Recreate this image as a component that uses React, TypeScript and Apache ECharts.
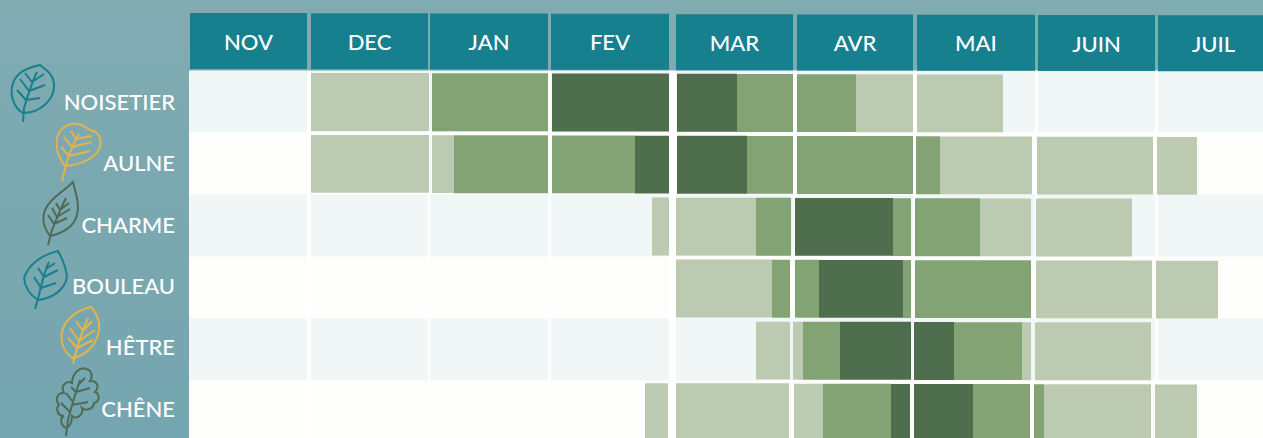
import React, { useEffect, useRef } from "react";
import * as echarts from "echarts";

// Position on the season axis: days counted from the start of November.
const species = ["NOISETIER", "AULNE", "CHARME", "BOULEAU", "HÊTRE", "CHÊNE"];
const monthNames = ["NOV", "DEC", "JAN", "FEV", "MAR", "AVR", "MAI", "JUIN", "JUIL"];
const monthStart = [0.25, 30.5, 60.25, 90.5, 121.75, 152, 182, 212.25, 242.25];
const monthEnd = [29.5, 59.75, 89.75, 120, 151, 181, 211.5, 241.5, 268.5];
const axisEnd = 268.5;

// [start, end, level]  level: 1 low, 2 medium, 3 high
const noisetier = [[30.5, 60, 1], [60.75, 89.75, 2], [90.75, 120, 3], [122, 137, 3], [137, 151, 2], [152, 166.75, 2], [166.75, 181, 1], [182, 203.5, 1]];
const aulne = [[30.5, 60, 1], [60.75, 66.25, 1], [66.25, 89.75, 2], [90.75, 111.5, 2], [111.5, 120, 3], [122, 139.5, 3], [139.5, 151, 2], [152, 181, 2], [181.75, 187.75, 2], [187.75, 210.75, 1], [212, 241, 1], [242, 252, 1]];
const charme = [[115.75, 120, 1], [121.75, 141.75, 1], [141.75, 150.5, 2], [151.5, 176, 3], [176, 180.5, 2], [181.5, 197.75, 2], [197.75, 210.5, 1], [211.75, 235.75, 1]];
const bouleau = [[121.75, 145.75, 1], [145.75, 150.25, 2], [151.5, 157.5, 2], [157.5, 178.5, 3], [178.5, 180.5, 2], [181.5, 210.5, 2], [211.75, 240.75, 1], [241.75, 257.25, 1]];
const hetre = [[141.75, 150.25, 1], [151, 153.5, 1], [153.5, 162.75, 2], [162.75, 180.5, 3], [181.25, 191.25, 3], [191.25, 208.25, 2], [208.25, 210.5, 1], [211.5, 240.5, 1]];
const chene = [[114, 119.75, 1], [121.75, 150, 1], [151.25, 158.5, 1], [158.5, 175.5, 2], [175.5, 180.25, 3], [181.25, 196, 3], [196, 210.25, 2], [211.25, 213.75, 2], [213.75, 240.5, 1], [241.5, 252, 1]];
const rows = [noisetier, aulne, charme, bouleau, hetre, chene];

const levelColors = ["", "#bccab1", "#84a374", "#4f6e4d"];
const TEAL = "#17808f";
const YELLOW = "#e2b44c";
const DARK = "#4f6a55";
const FONT = "Lato";
const TILT = 0.0024;

const leaves: [string, string][] = [
  ["M23 113 C14 108 9 95 13 83 C17 71 30 67 40 65 C46 70 54 74 54 86 C54 100 40 113 23 113 Z M23 122 L24 108 C28 95 32 82 37 72 M26 100 L17 90 M29 91 L20 79 M32 82 L25 73 M26 100 L40 98 M29 91 L45 85 M32 82 L44 74", TEAL],
  ["M65 166 C59 158 55 148 57 138 C59 128 68 123 77 124 C84 125 88 130 93 131 C99 133 102 140 100 147 C97 157 82 165 65 166 Z M62 181 L67 161 C71 150 74 141 79 134 M69 156 L61 147 M72 147 L64 137 M76 139 L71 131 M69 156 L90 151 M72 147 L92 142 M76 139 L92 136", YELLOW],
  ["M73 182 C76 195 80 205 77 215 C74 227 63 233 50 236 C44 228 41 218 46 208 C51 198 63 192 73 182 Z M48 245 L52 230 C56 220 60 210 66 198 M54 224 L48 215 M57 217 L52 208 M60 210 L56 203 M54 224 L67 218 M57 217 L70 209 M60 210 L69 203", DARK],
  ["M58 251 C62 258 66 268 67 277 C65 288 55 298 38 300 C30 295 25 288 24 278 C28 266 40 255 58 251 Z M35 309 L39 295 C42 282 45 270 49 262 M41 288 L34 277 M44 277 L38 268 M41 288 L56 283 M44 277 L58 270 M46 269 L55 263", TEAL],
  ["M91 307 C98 315 101 325 98 335 C94 348 84 356 72 358 C64 352 60 342 62 332 C65 318 78 310 91 307 Z M73 364 L76 352 C79 340 83 330 88 318 M77 348 L68 338 M79 341 L70 328 M83 331 L76 321 M77 348 L93 340 M79 341 L95 330 M83 331 L92 321", YELLOW],
  ["M66 428 C60 425 60 418 64 416 C58 416 55 409 59 405 C55 400 57 392 64 393 C60 386 66 380 72 383 C72 374 80 366 86 369 C92 370 93 377 90 381 C97 380 100 387 95 392 C100 394 100 402 94 403 C93 410 85 411 82 408 C84 415 76 420 72 416 C72 422 71 426 66 428 Z M66 436 L68 420 C71 408 75 395 80 380 M70 412 L61 403 M73 402 L66 393 M76 392 L71 387 M72 405 L88 402 M76 392 L90 388 M78 385 L85 378", DARK],
];

leaves.forEach(([d], i) => {
  echarts.graphic.registerShape("leaf" + i, echarts.graphic.extendPath(d, {}) as any);
});

const segmentData: any[] = [];
rows.forEach((row, r) => row.forEach(([s, e, l]) => segmentData.push([s, e, r, l])));
const headerData = monthNames.map((name, i) => [monthStart[i], monthEnd[i], 1]);
const separatorData = monthStart.slice(1).map((s, i) => [(s + monthEnd[i]) / 2, s - monthEnd[i]]);

export default function App() {
  const ref = useRef<HTMLDivElement>(null);
  useEffect(() => {
    document.body.style.margin = "0";
    document.documentElement.style.overflow = "hidden";
    const chart = echarts.init(ref.current!, null, { renderer: "svg" });
    const gridLeft = 189;
    const gridW = 1074;
    const hiddenX = (gridIndex: number) => ({
      type: "value" as const, gridIndex, min: 0, max: axisEnd, show: false,
    });
    chart.setOption({
      animation: false,
      backgroundColor: {
        type: "linear", x: 0, y: 0, x2: 0, y2: 1,
        colorStops: [{ offset: 0, color: "#80abb1" }, { offset: 1, color: "#74a5b0" }],
      },
      grid: [
        { left: gridLeft, width: gridW, top: 70.7, height: 371.4, show: true, backgroundColor: "#fefefd", borderWidth: 0 },
        { left: gridLeft, width: gridW, top: 13, height: 56 },
        { left: gridLeft, width: gridW, top: 71, height: 367.8 },
      ],
      xAxis: [hiddenX(0), hiddenX(1), hiddenX(2)],
      yAxis: [
        {
          type: "category", gridIndex: 0, data: species, inverse: true,
          axisLine: { show: false }, axisTick: { show: false }, axisLabel: { show: false },
          splitLine: { show: false },
          splitArea: { show: true, areaStyle: { color: ["#f1f6f7", "#fefefd"] } },
        },
        { type: "value", gridIndex: 1, min: 0, max: 1, show: false },
        {
          type: "category", gridIndex: 2, data: species, inverse: true,
          axisLine: { show: false }, axisTick: { show: false }, splitLine: { show: false },
          axisLabel: {
            color: "#ffffff", fontFamily: FONT, fontSize: 22, fontWeight: 500, margin: 14, align: "right",
          },
        },
      ],
      series: [
        {
          type: "custom", name: "separators", xAxisIndex: 0, yAxisIndex: 0, data: separatorData,
          encode: { x: 0 }, silent: true, z: 1,
          renderItem: (params: any, api: any) => {
            const x = api.coord([api.value(0), 0])[0];
            const w = api.size([api.value(1), 0])[0];
            const cs = params.coordSys;
            return {
              type: "rect",
              shape: { x: x - w / 2, y: cs.y, width: w, height: cs.height },
              style: { fill: "#ffffff" },
            };
          },
        },
        {
          type: "custom", name: "pollen", xAxisIndex: 0, yAxisIndex: 0, data: segmentData,
          encode: { x: [0, 1], y: 2 }, silent: true, z: 2, clip: false,
          renderItem: (_: any, api: any) => {
            const start = api.coord([api.value(0), api.value(2)]);
            const end = api.coord([api.value(1), api.value(2)]);
            const h = api.size([0, 1])[1] - 4;
            return {
              type: "rect",
              shape: {
                x: start[0],
                y: start[1] - h / 2 + (start[0] - gridLeft) * TILT,
                width: end[0] - start[0],
                height: h,
              },
              style: { fill: levelColors[api.value(3)] },
            };
          },
        },
        {
          type: "custom", name: "months", xAxisIndex: 1, yAxisIndex: 1, data: headerData,
          encode: { x: [0, 1], y: 2 }, silent: true, z: 3, clip: false,
          renderItem: (params: any, api: any) => {
            const a = api.coord([api.value(0), 1]);
            const b = api.coord([api.value(1), 0]);
            const dy = (a[0] - gridLeft) * TILT;
            return {
              type: "group",
              children: [
                {
                  type: "rect",
                  shape: { x: a[0], y: a[1] + dy, width: b[0] - a[0], height: b[1] - a[1] },
                  style: { fill: TEAL },
                },
                {
                  type: "text",
                  style: {
                    x: (a[0] + b[0]) / 2 + (params.dataIndex === 8 ? 3 : 0),
                    y: (a[1] + b[1]) / 2 + dy,
                    text: monthNames[params.dataIndex],
                    fill: "#ffffff",
                    font: `500 22px ${FONT}`,
                    textAlign: "center",
                    textVerticalAlign: "middle",
                  },
                },
              ],
            };
          },
        },
      ],
      graphic: leaves.map(([, color], i) => ({
        type: "leaf" + i,
        x: 0,
        y: 0,
        silent: true,
        style: { stroke: color, fill: "none", lineWidth: 2 },
      })),
    });
    return () => chart.dispose();
  }, []);
  return (
    <div style={{ width: 1263, height: 438, overflow: "hidden" }}>
      <div ref={ref} style={{ width: 1263, height: 460 }} />
    </div>
  );
}
